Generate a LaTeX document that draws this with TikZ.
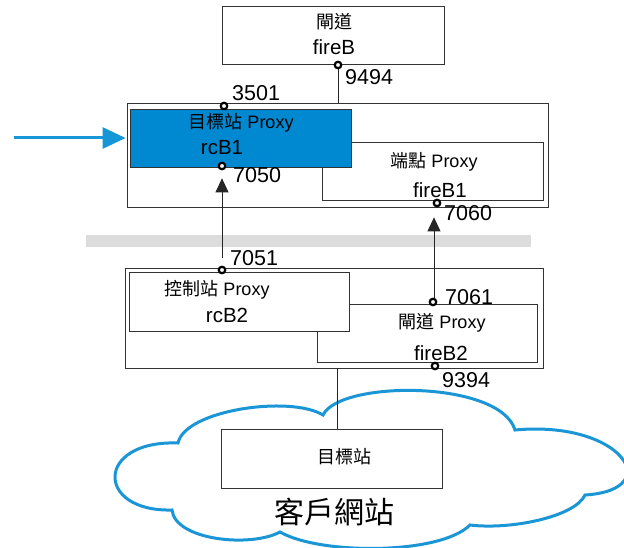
\documentclass[tikz,border=0pt]{standalone}
\usepackage{fontspec}
\setmainfont{Liberation Sans}
\newfontfamily\cjk{Noto Sans CJK TC}
\usetikzlibrary{arrows.meta}
\definecolor{boxblue}{RGB}{0,137,208}
\definecolor{arrowblue}{RGB}{20,150,215}
\definecolor{cloudblue}{RGB}{26,150,214}
\definecolor{bandgray}{RGB}{220,220,220}
\tikzset{
  box/.style={draw=black!80, line width=0.9pt, fill=white, inner sep=0pt},
  bluebox/.style={box, fill=boxblue},
  port/.style={circle, draw=black, line width=2.2pt, fill=white, minimum size=6.5pt, inner sep=0pt},
  numlbl/.style={anchor=west, inner sep=0pt, font=\fontsize{21.5}{23}\selectfont},
  txt/.style={inner sep=0pt, font=\fontsize{18}{20}\selectfont},
  txtb/.style={inner sep=0pt, font=\fontsize{20.5}{22}\selectfont},
  conn/.style={draw=black!85, line width=0.8pt},
  uparrow/.style={conn, -{Triangle[length=14pt,width=13pt]}},
  cloudline/.style={draw=cloudblue, line width=3pt, fill=white}
}
\begin{document}
\begin{tikzpicture}[x=1pt,y=-1pt]
\useasboundingbox (0,0) rectangle (624,548);
% cloud
\draw[cloudline] (178,443) .. controls (185,410) and (290,395) .. (323,415)
 .. controls (340,380) and (500,380) .. (515,430)
 .. controls (622,420) and (667,490) .. (585,495)
 .. controls (575,517) and (510,530) .. (470,525)
 .. controls (440,555) and (320,555) .. (280,532)
 .. controls (250,548) and (175,540) .. (172,510)
 .. controls (95,512) and (95,440) .. (178,443) -- cycle;
% gray band
\fill[bandgray] (86,235) rectangle (531,247);
% top gateway
\node[box, minimum width=222pt, minimum height=58pt] (fireB) at (333,35) {};
\node[txt] at (334,22) {\cjk 閘道};
\node[txtb] at (334,47) {fireB};
% outer box 1
\node[box, minimum width=421pt, minimum height=104pt] (outer1) at (337.5,155) {};
\node[box, minimum width=221pt, minimum height=58pt] (fireB1) at (432.5,171) {};
\node[bluebox, minimum width=221pt, minimum height=58pt] (rcB1) at (240.5,138) {};
\node[txt] at (241,123) {{\cjk 目標站} Proxy};
\node[txtb] at (222,148) {rcB1};
\node[txt] at (434,162) {{\cjk 端點} Proxy};
\node[txtb] at (440,190) {fireB1};
% outer box 2
\node[box, minimum width=418pt, minimum height=100pt] (outer2) at (334,318) {};
\node[box, minimum width=220pt, minimum height=58pt] (fireB2) at (427,333) {};
\node[box, minimum width=220pt, minimum height=59pt] (rcB2) at (239,301.5) {};
\node[txt] at (217,290) {{\cjk 控制站} Proxy};
\node[txtb] at (227,315) {rcB2};
\node[txt] at (442,323) {{\cjk 閘道} Proxy};
\node[txtb] at (441,353) {fireB2};
% target
\node[box, minimum width=221pt, minimum height=59pt] (target) at (331.5,458.5) {};
\node[txt] at (344,457) {\cjk 目標站};
\node[inner sep=0pt, font=\fontsize{30}{32}\selectfont] (client) at (334,512) {\cjk 客戶網站};
% connectors
\coordinate (o1top) at (338,103);
\draw[conn] (338,65) -- (o1top);
\coordinate (o2bot) at (337,368);
\coordinate (tgtop) at (337,429);
\draw[conn] (o2bot) -- (tgtop);
% ports
\node[port] (p9494) at (338,65) {};
\node[port] (p3501) at (224,106) {};
\node[port] (p7050) at (222,166) {};
\node[port] (p7060) at (437,203) {};
\node[port] (p7051) at (222,270) {};
\node[port] (p7061) at (433,302) {};
\node[port] (p9394) at (435,366) {};
\node[numlbl] at (345,77) {9494};
\node[numlbl] at (232,93) {3501};
\node[numlbl] at (233,175) {7050};
\node[numlbl] at (444,213) {7060};
\node[numlbl] at (230,258) {7051};
\node[numlbl] at (445,297) {7061};
\node[numlbl] at (442,380) {9394};
% arrows
\draw[uparrow, shorten >=8pt] ([yshift=8pt]p7051.north) -- (p7050.south);
\draw[uparrow, shorten >=10pt] ([xshift=1pt]p7061.north) -- ([xshift=-3pt]p7060.south);
\coordinate (inlet) at (14,138);
\draw[draw=arrowblue, line width=3pt, -{Triangle[length=23pt,width=21pt]}, shorten >=4pt] (inlet) -- (rcB1.west);
\end{tikzpicture}
\end{document}
